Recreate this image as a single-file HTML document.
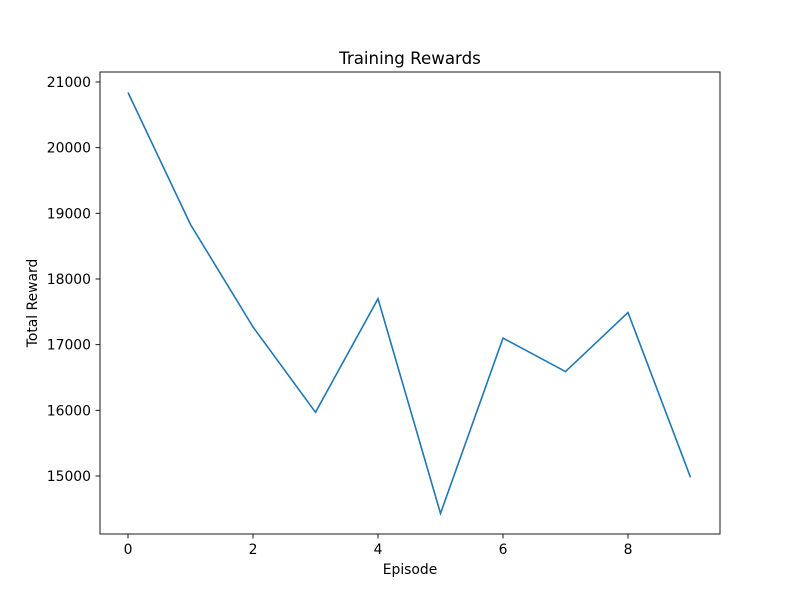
<!DOCTYPE html>
<html><head><meta charset="utf-8"><style>
body{margin:0;background:#fff}
svg{display:block;font-family:"DejaVu Sans","Liberation Sans",sans-serif}
</style></head><body>
<svg id="chart" width="800" height="600">
<rect x="0" y="0" width="800" height="600" fill="#fff"/>
<text x="410" y="64" text-anchor="middle" font-size="16.67">Training Rewards</text>
<g id="ticks"></g>
<path id="line" fill="none" stroke="#1f77b4" stroke-width="1.6"/>
<rect x="100" y="72" width="620" height="462" fill="none" stroke="#000" stroke-width="0.9"/>
<text x="410" y="574" text-anchor="middle" font-size="13.9">Episode</text>
<text x="37" y="303" text-anchor="middle" font-size="13.9" transform="rotate(-90 37 303)">Total Reward</text>
</svg>
<script>
const episodes = [0,1,2,3,4,5,6,7,8,9];
const rewards = [20840,18830,17270,15970,17700,14430,17100,16590,17490,14980];
const xTicks = [0,2,4,6,8];
const yTicks = [15000,16000,17000,18000,19000,20000,21000];
const xs = v => 128 + v*62.5;
const ys = v => 476 - (v-15000)*0.06567;
const NS = "http://www.w3.org/2000/svg";
const g = document.getElementById('ticks');
function mk(tag, attrs, txt){const e=document.createElementNS(NS,tag);for(const k in attrs)e.setAttribute(k,attrs[k]);if(txt!==undefined)e.textContent=txt;g.appendChild(e);return e;}
xTicks.forEach(t=>{
  const l=mk('line',{x1:xs(t),x2:xs(t),y1:534,y2:538.5,stroke:'#000','stroke-width':0.9});
  
  
  const tx=mk('text',{x:xs(t),y:554,'text-anchor':'middle','font-size':13.9},String(t));
  
  
});
yTicks.forEach(t=>{
  const l=mk('line',{x1:95.5,x2:100,y1:ys(t),y2:ys(t),stroke:'#000','stroke-width':0.9});
  
  
  const tx=mk('text',{x:91,y:ys(t)+5,'text-anchor':'end','font-size':13.9},String(t));
  
  
});
document.getElementById('line').setAttribute('d', episodes.map((e,i)=>(i?'L':'M')+xs(e)+' '+ys(rewards[i])).join(' '));
</script>
</body></html>
